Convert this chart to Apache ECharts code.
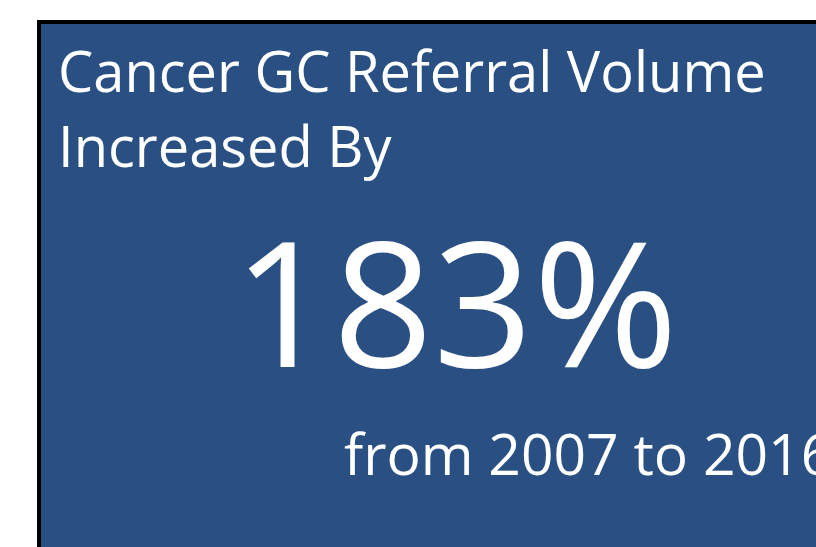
<!DOCTYPE html>
<html><head><meta charset="utf-8">
<script src="https://cdn.jsdelivr.net/npm/echarts@6/dist/echarts.min.js"></script>
<style>html,body{margin:0;padding:0;background:#fff}#c{width:816px;height:547px}</style>
</head><body><div id="c"></div>
<script>
const headlineLines = ["Cancer GC Referral Volume", "Increased By"];
const increasePct = 183;
const startYear = 2007;
const endYear = 2016;

const chart = echarts.init(document.getElementById('c'), null, {renderer: 'canvas'});
const font = '"Open Sans", "Liberation Sans", sans-serif';
chart.setOption({
  animation: false,
  graphic: [
    {type: 'rect', shape: {x: 39, y: 22, width: 800, height: 560},
     style: {fill: '#2A5083', stroke: '#000', lineWidth: 4}},
    {type: 'text', left: 58, top: 48,
     style: {text: headlineLines[0], fill: '#fff', font: '400 56px ' + font}},
    {type: 'text', left: 58, top: 123,
     style: {text: headlineLines[1], fill: '#fff', font: '400 56px ' + font}},
    {type: 'text', left: 233, top: 230,
     style: {text: increasePct + '%', fill: '#fff', font: '400 175px ' + font}},
    {type: 'text', left: 344, top: 430,
     style: {text: 'from ' + startYear + ' to ' + endYear, fill: '#fff', font: '400 57px ' + font}}
  ]
});
</script></body></html>
